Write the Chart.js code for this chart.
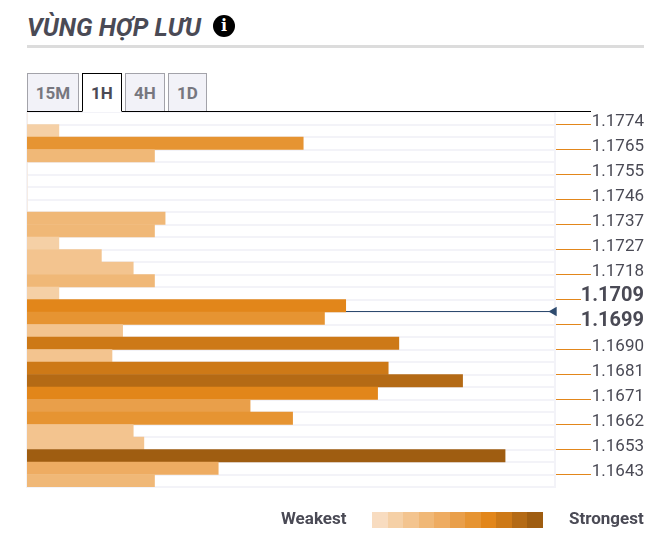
<!DOCTYPE html>
<html lang="vi">
<head>
<meta charset="utf-8">
<title>Vùng hợp lưu</title>
<script src="https://cdn.jsdelivr.net/npm/chart.js@4"></script>
<style>
  html, body { margin: 0; padding: 0; background: #fff; }
  body { width: 671px; height: 559px; position: relative; overflow: hidden; font-family: Roboto, sans-serif; color: #4a4a55; }
  canvas { position: absolute; left: 0; top: 0; }
  h2 { position: absolute; left: 27px; top: 13px; margin: 0; font: italic 700 25px/30px Roboto, sans-serif; color: #4a4a55; white-space: nowrap; }
  .rule { position: absolute; left: 27px; top: 45px; width: 617px; height: 3px; background: #dcdcdc; }
  .info { position: absolute; left: 213px; top: 15px; width: 22px; height: 22px; border-radius: 50%; background: #000; color: #fff; font: 700 16px/22px "DejaVu Serif", serif; text-align: center; }
  .tabline { position: absolute; left: 27px; top: 111px; width: 564px; height: 1px; background: #000; z-index: 1; }
  .tab { position: absolute; top: 73px; height: 37px; box-sizing: content-box; background: #f2f2f8; border: 1px solid #a3a3aa; border-bottom: 1px solid #a3a3aa; font: 700 17px/38px Roboto, sans-serif; color: #77777f; text-align: center; }
  .tab.on { background: #fff; border-color: #000; border-bottom: 1px solid #fff; color: #4a4a55; z-index: 2; }
  .lbl { position: absolute; top: 508px; font: 700 17px/20px Roboto, sans-serif; color: #4a4a55; white-space: nowrap; }
  .scale { position: absolute; left: 372px; top: 512px; width: 171px; height: 16px; display: flex; }
  .scale i { display: block; flex: 1 1 0; }
</style>
</head>
<body>
<h2>VÙNG HỢP LƯU</h2>
<div class="info">i</div>
<div class="rule"></div>
<div class="tab" style="left:27px;width:50px">15M</div>
<div class="tab on" style="left:82px;width:38px">1H</div>
<div class="tab" style="left:125px;width:38px">4H</div>
<div class="tab" style="left:168px;width:37px">1D</div>
<canvas id="c" width="671" height="559"></canvas>
<div class="tabline"></div>
<div class="lbl" style="left:281px">Weakest</div>
<div class="scale" id="scale"></div>
<div class="lbl" style="left:569px">Strongest</div>
<script>
const strengths = [0, 3, 26, 12, 0, 0, 0, 0, 13, 12, 3, 7, 10, 12, 3, 30, 28, 9, 35, 8, 34, 41, 33, 21, 25, 10, 11, 45, 18, 12];
const rows = ["r1","r2","r3","r4","r5","r6","r7","r8","r9","r10","r11","r12","r13","r14","r15","r16","r17","r18","r19","r20","r21","r22","r23","r24","r25","r26","r27","r28","r29","r30"];
const tickLabels = ["1.1774","1.1765","1.1755","1.1746","1.1737","1.1727","1.1718","1.1709","1.1699","1.1690","1.1681","1.1671","1.1662","1.1653","1.1643"];
const boldLabels = ["1.1709","1.1699"];
const tickRows = [1,3,5,7,9,11,13,15,17,19,21,23,25,27,29];
const currentRow = 15.96;
const currentFrom = 30;
const currentTo = 49.6;
const shades = ["#f8dcc0","#f5d0a6","#f3c48f","#f0b877","#eeac62","#e99f4a","#e69432","#e2861a","#cd7917","#b46a15","#9f5d11"];
const shadeFloors = [0,3,7,12,18,21,25,30,34,41,45];

function shadeOf(v) {
  let s = shades[0];
  shadeFloors.forEach((f, i) => { if (v >= f) s = shades[i]; });
  return s;
}
const labelOf = v => tickLabels[tickRows.indexOf(v)];
const isBold = ctx => !!ctx.tick && boldLabels.includes(labelOf(ctx.tick.value));

document.getElementById('scale').innerHTML = shades.map(s => `<i style="background:${s}"></i>`).join('');

const priceTicks = {
  id: 'priceTicks',
  afterDraw(chart) {
    const s = chart.scales.yPrice, c = chart.ctx;
    c.save();
    c.strokeStyle = '#e2861a';
    c.lineWidth = 1;
    s.ticks.forEach(t => {
      const y = Math.floor(s.getPixelForValue(t.value)) + 0.5;
      const len = boldLabels.includes(labelOf(t.value)) ? 25 : 35;
      c.beginPath();
      c.moveTo(s.left + 1, y);
      c.lineTo(s.left + 1 + len, y);
      c.stroke();
    });
    c.restore();
  }
};

new Chart(document.getElementById('c'), {
  plugins: [priceTicks],
  data: {
    labels: rows,
    datasets: [
      {
        type: 'bar',
        data: strengths,
        backgroundColor: strengths.map(shadeOf),
        grouped: false,
        barPercentage: 1,
        categoryPercentage: 1,
        xAxisID: 'x',
        yAxisID: 'y'
      },
      {
        type: 'scatter',
        indexAxis: 'x',
        showLine: true,
        clip: false,
        data: [{x: currentFrom, y: currentRow}, {x: currentTo, y: currentRow}],
        borderColor: '#2d4a6e',
        borderWidth: 1,
        backgroundColor: '#2d4a6e',
        pointStyle: 'triangle',
        pointRotation: -90,
        pointRadius: [0, 5.5],
        pointBorderWidth: 0,
        xAxisID: 'x',
        yAxisID: 'yPrice'
      }
    ]
  },
  options: {
    indexAxis: 'y',
    responsive: false,
    animation: false,
    devicePixelRatio: 1,
    layout: { padding: { left: 27, top: 112, bottom: 72, right: 27 } },
    plugins: { legend: { display: false }, tooltip: { enabled: false } },
    scales: {
      x: { type: 'linear', min: 0, max: 49.7, display: false },
      y: {
        type: 'category',
        position: 'left',
        grid: { offset: true, color: '#f3f3f8', lineWidth: 2, drawTicks: false },
        border: { color: '#f3f3f8', width: 2 },
        ticks: { display: false },
        afterFit: s => { s.width = 0; }
      },
      yPrice: {
        type: 'linear',
        position: 'right',
        reverse: true,
        min: 0,
        max: 30,
        afterBuildTicks: s => { s.ticks = tickRows.map(v => ({ value: v })); },
        afterFit: s => { s.width = 89; },
        grid: { drawOnChartArea: false, drawTicks: false },
        border: { color: '#f3f3f8', width: 2 },
        ticks: {
          autoSkip: false,
          crossAlign: 'far',
          color: '#4a4a55',
          callback: v => [labelOf(v), ''],
          font: ctx => isBold(ctx)
            ? { family: 'Roboto', size: 20, weight: '700', lineHeight: '8px' }
            : { family: 'Roboto', size: 17, weight: '400', lineHeight: '6px' }
        }
      }
    }
  }
});
</script>
</body>
</html>
